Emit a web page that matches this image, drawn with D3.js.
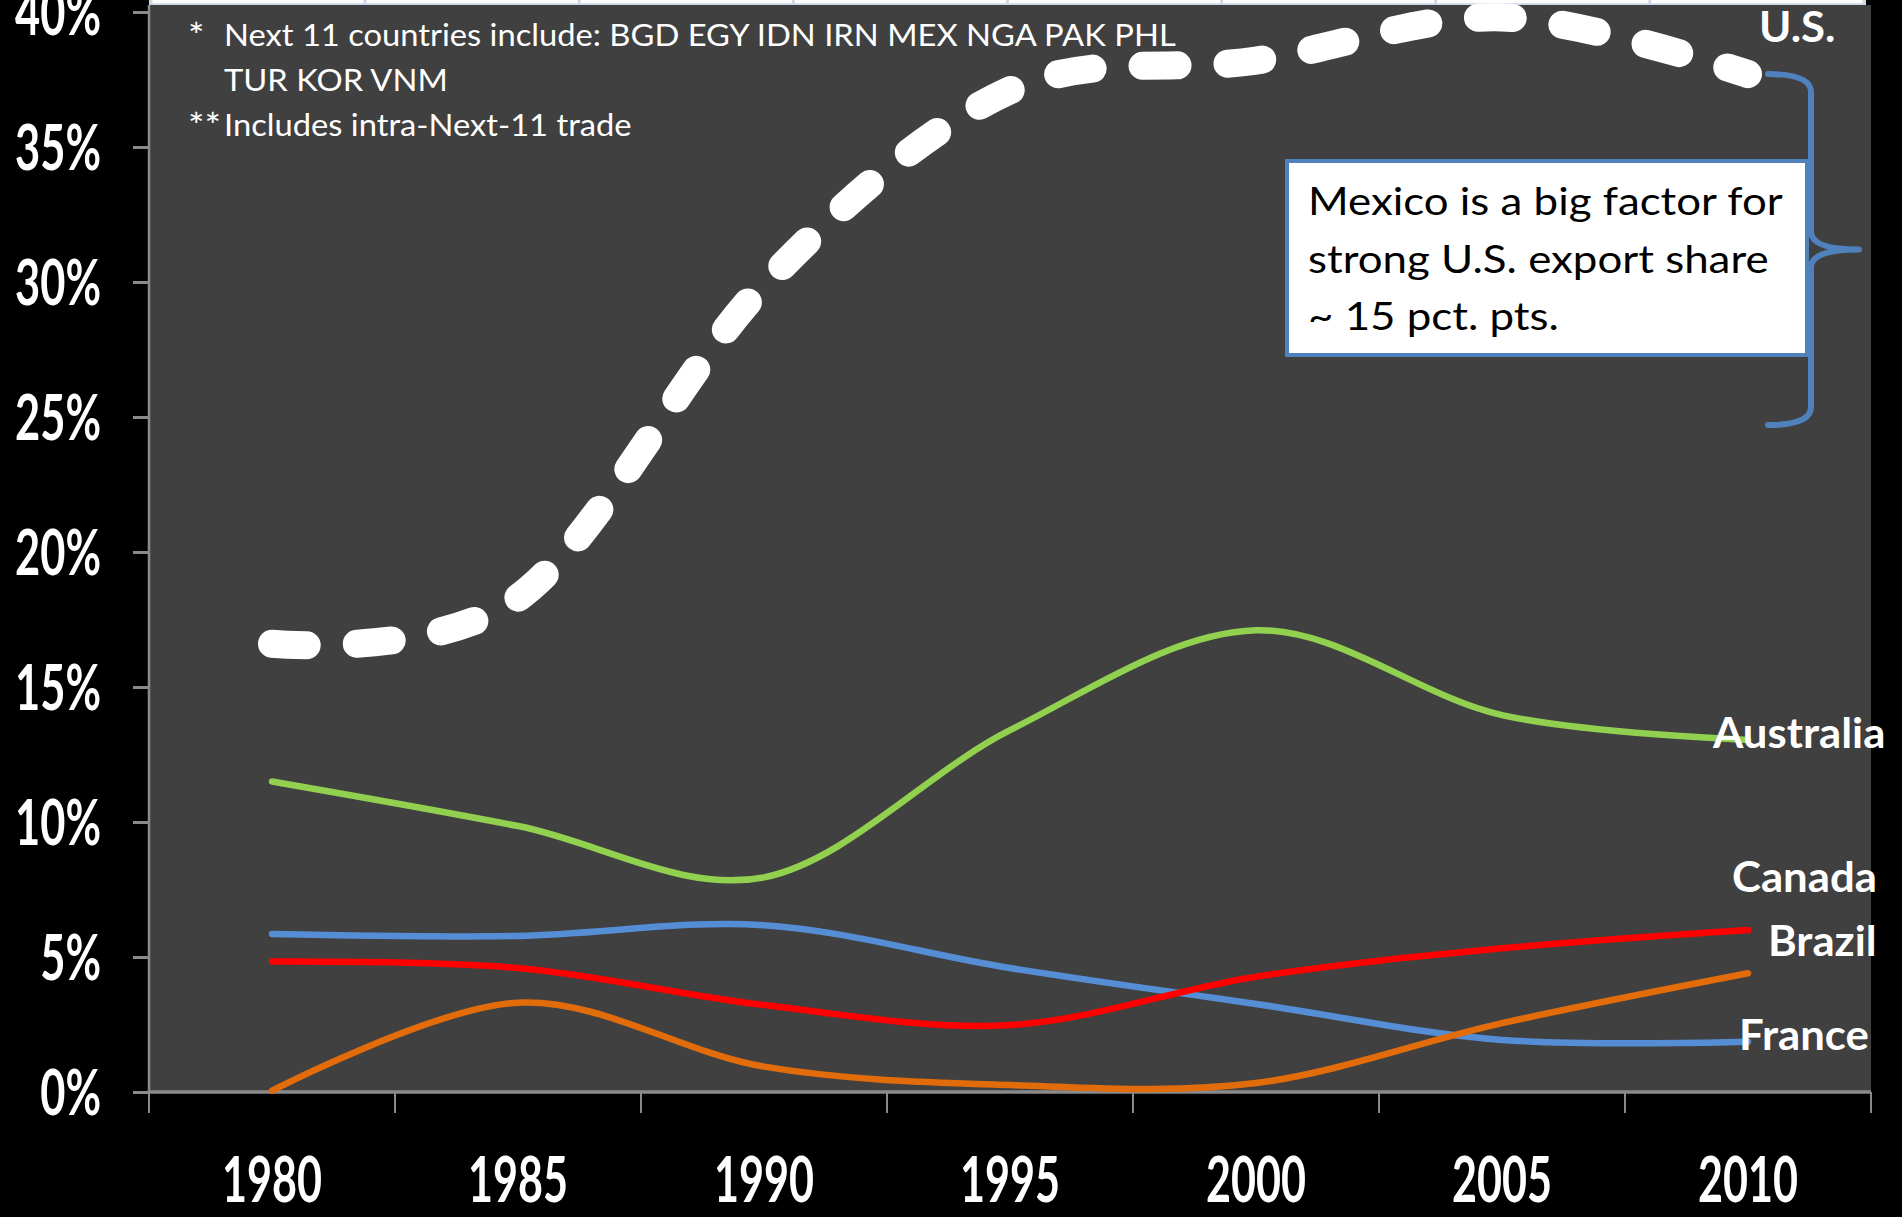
<!DOCTYPE html>
<html>
<head>
<meta charset="utf-8">
<script src="https://cdn.jsdelivr.net/npm/d3@7"></script>
<style>
  html, body { margin: 0; padding: 0; background: #000; overflow: hidden; }
  svg { display: block; }
</style>
</head>
<body>
<svg id="chart" width="1902" height="1217"></svg>
<script>
// ---- data: share of exports going to the Next 11 economies (%) ----
const years = ["1980", "1985", "1990", "1995", "2000", "2005", "2010"];
const usShare        = [16.6, 18.3, 29.9, 37.1, 38.2, 39.8, 37.7];
const australiaShare = [11.5, 9.85, 7.95, 13.4, 17.1, 13.96, 13.04];
const canadaShare    = [4.83, 4.59, 3.22, 2.48, 4.27, 5.32, 6.0];
const brazilShare    = [0.05, 3.31, 0.94, 0.26, 0.33, 2.55, 4.4];
const franceShare    = [5.85, 5.78, 6.18, 4.59, 3.26, 1.93, 1.86];
const yTickValues = [0, 5, 10, 15, 20, 25, 30, 35, 40];

const footnoteMarks = ["*", "", "**"];
const footnoteLines = [
  "Next 11 countries include: BGD EGY IDN IRN MEX NGA PAK PHL",
  "TUR KOR VNM",
  "Includes intra-Next-11 trade"
];
const calloutLines = [
  "Mexico is a big factor for",
  "strong U.S. export share",
  "~ 15 pct. pts."
];
// span of the U.S. line bracketed by the callout (%)
const braceRange = [24.7, 37.7];

// ---- layout ----
const W = 1902, H = 1217;
const plot = { left: 149, right: 1871, top: 5, bottom: 1092 };
const FONT = "Lato, 'Open Sans', 'DejaVu Sans', sans-serif";
const axisGray = "#8a8a8a";

const series = [
  { name: "France",    values: franceShare,    color: "#558ed5", label: { dx: -9,  dy: 8 } },
  { name: "Canada",    values: canadaShare,    color: "#ff0000", label: { dx: -16, dy: -38 } },
  { name: "Brazil",    values: brazilShare,    color: "#e36c0a", label: { dx: 20,  dy: -17 } },
  { name: "Australia", values: australiaShare, color: "#92d050", label: { dx: -35, dy: 8 } },
  { name: "U.S.",      values: usShare,        color: "#ffffff", label: { dx: 11,  dy: -32 }, dashed: true }
];

const svg = d3.select("#chart");

const x = d3.scaleBand().domain(years).range([plot.left, plot.right]).paddingInner(0).paddingOuter(0);
const y = d3.scaleLinear().domain([0, 40]).range([plot.bottom, 12]);
const cx = i => x(years[i]) + x.bandwidth() / 2;

// width of a string in a given font, used to squeeze text horizontally
function measure(str, size, weight) {
  const t = svg.append("text")
    .attr("font-family", FONT).attr("font-size", size).attr("font-weight", weight)
    .text(str);
  const w = t.node().getComputedTextLength();
  t.remove();
  return w;
}
const kYear   = 100 / measure("1980", 63, 700);
const kPct    = 86  / measure("35%", 63, 700);
const kSeries = 145 / measure("Canada", 42, 700);
const kNote   = 952 / measure(footnoteLines[0], 30, 400);
const kMark   = 33  / measure("**", 34, 400);
const kCall   = 475 / measure(calloutLines[0], 38, 400);

// ---- background ----
svg.append("rect").attr("width", W).attr("height", H).attr("fill", "#000");
svg.append("rect")
  .attr("x", plot.left).attr("y", plot.top)
  .attr("width", plot.right - plot.left).attr("height", plot.bottom - plot.top)
  .attr("fill", "#404040");

// strip of a table row along the top edge
const stripCols = 8, stripL = 151, stripR = 1864;
const stripW = (stripR - stripL) / stripCols;
const strip = svg.append("g");
strip.append("rect").attr("x", stripL - 2).attr("y", 0).attr("width", stripR - stripL + 4).attr("height", 5).attr("fill", "#cfd8e8");
strip.selectAll("rect.cell").data(d3.range(stripCols)).join("rect")
  .attr("class", "cell")
  .attr("x", i => stripL + i * stripW + 1.5).attr("y", 0)
  .attr("width", stripW - 3).attr("height", 3.2)
  .attr("fill", "#ffffff");

// ---- y axis ----
const yAxis = svg.append("g")
  .attr("transform", `translate(${plot.left},0)`)
  .call(d3.axisLeft(y).tickValues(yTickValues).tickSize(16).tickSizeOuter(0).tickFormat(d => d + "%"));
yAxis.select(".domain").remove();
yAxis.selectAll(".tick line").attr("stroke", axisGray).attr("stroke-width", 3);
yAxis.selectAll(".tick text")
  .attr("x", 0).attr("dy", null)
  .attr("transform", `translate(-48,22) scale(${kPct},1)`)
  .attr("fill", "#fff")
  .attr("font-family", FONT).attr("font-size", 63).attr("font-weight", 700)
  .attr("text-anchor", "end");
svg.append("line")
  .attr("x1", plot.left).attr("x2", plot.left)
  .attr("y1", plot.top).attr("y2", plot.bottom)
  .attr("stroke", axisGray).attr("stroke-width", 2.5);

// ---- x axis ----
const xAxis = svg.append("g")
  .attr("transform", `translate(0,${plot.bottom})`)
  .call(d3.axisBottom(x).tickSize(0).tickSizeOuter(0));
xAxis.select(".domain").remove();
xAxis.selectAll(".tick text")
  .attr("y", 0).attr("dy", null)
  .attr("transform", `translate(0,110) scale(${kYear},1)`)
  .attr("fill", "#fff")
  .attr("font-family", FONT).attr("font-size", 63).attr("font-weight", 700)
  .attr("text-anchor", "middle");
// category boundary ticks
const bounds = years.map(d => x(d)).concat([x.range()[1]]);
svg.append("g").selectAll("line").data(bounds).join("line")
  .attr("x1", d => d).attr("x2", d => d)
  .attr("y1", plot.bottom).attr("y2", plot.bottom + 21)
  .attr("stroke", axisGray).attr("stroke-width", 2);
svg.append("line")
  .attr("x1", plot.left).attr("x2", plot.right)
  .attr("y1", plot.bottom).attr("y2", plot.bottom)
  .attr("stroke", axisGray).attr("stroke-width", 3.5);

// ---- series lines ----
const line = d3.line()
  .x((d, i) => cx(i))
  .y(d => y(d))
  .curve(d3.curveCardinal.tension(0));

svg.append("g").selectAll("path").data(series).join("path")
  .attr("d", s => line(s.values))
  .attr("fill", "none")
  .attr("stroke", s => s.color)
  .attr("stroke-width", s => s.dashed ? 28 : 6.5)
  .attr("stroke-linecap", "round")
  .attr("stroke-dasharray", s => s.dashed ? "35 50" : null);

// ---- series name labels at the line ends ----
const last = years.length - 1;
svg.append("g").selectAll("text").data(series).join("text")
  .attr("transform", s => `translate(${cx(last) + s.label.dx},${y(s.values[last]) + s.label.dy}) scale(${kSeries},1)`)
  .attr("fill", "#fff")
  .attr("font-family", FONT).attr("font-size", 42).attr("font-weight", 700)
  .text(s => s.name);

// ---- footnotes ----
const notes = svg.append("g")
  .attr("fill", "#fff").attr("font-family", FONT).attr("font-weight", 400);
footnoteLines.forEach((t, i) => {
  const base = 46 + i * 45;
  if (footnoteMarks[i]) {
    notes.append("text")
      .attr("transform", `translate(188,${base + 2}) scale(${kMark},1)`)
      .attr("font-size", 34)
      .text(footnoteMarks[i]);
  }
  notes.append("text")
    .attr("transform", `translate(224,${base}) scale(${kNote},1)`)
    .attr("font-size", 30)
    .text(t);
});

// ---- callout box and brace ----
const box = { x: 1287, y: 161, w: 520, h: 194 };
svg.append("rect")
  .attr("x", box.x).attr("y", box.y).attr("width", box.w).attr("height", box.h)
  .attr("fill", "#fff").attr("stroke", "#4f81bd").attr("stroke-width", 4);
svg.append("g").selectAll("text").data(calloutLines).join("text")
  .attr("transform", (d, i) => `translate(${box.x + 21},${215 + i * 57.5}) scale(${kCall},1)`)
  .attr("fill", "#000")
  .attr("font-family", FONT).attr("font-size", 38).attr("font-weight", 400)
  .text(d => d);

const bTop = y(braceRange[1]), bBot = y(braceRange[0]), bMid = (bTop + bBot) / 2;
const bx = 1811, armX = 1768, tipX = 1859, r = 18;
const bracePath = [
  `M${armX},${bTop}`,
  `Q${bx},${bTop} ${bx},${bTop + r}`,
  `L${bx},${bMid - r}`,
  `Q${bx},${bMid} ${tipX},${bMid}`,
  `Q${bx},${bMid} ${bx},${bMid + r}`,
  `L${bx},${bBot - r}`,
  `Q${bx},${bBot} ${armX},${bBot}`
].join(" ");
svg.append("path")
  .attr("d", bracePath)
  .attr("fill", "none")
  .attr("stroke", "#4f81bd").attr("stroke-width", 6)
  .attr("stroke-linejoin", "round").attr("stroke-linecap", "round");
</script>
</body>
</html>
